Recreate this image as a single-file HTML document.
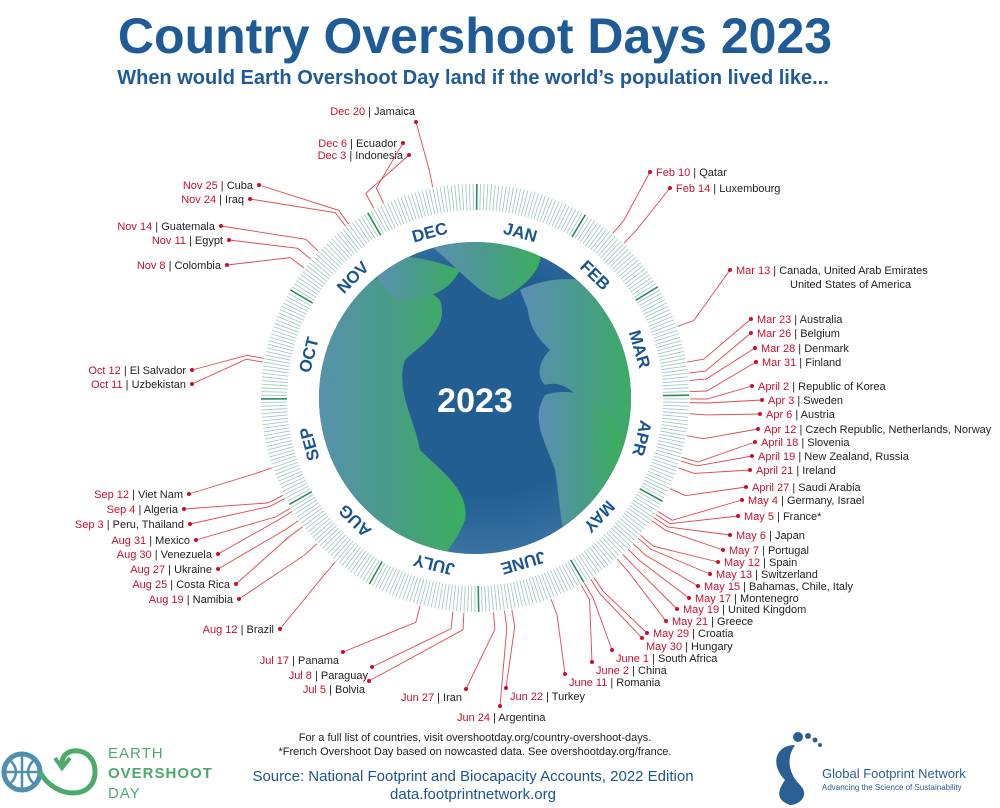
<!DOCTYPE html>
<html><head><meta charset="utf-8">
<style>
body{margin:0;background:#fff;}
svg{display:block;font-family:"Liberation Sans",sans-serif;}
</style></head>
<body>
<svg id="s" width="1000" height="808" viewBox="0 0 1000 808" xmlns="http://www.w3.org/2000/svg">
<defs>
<linearGradient id="land" x1="0" y1="0" x2="1" y2="0">
<stop offset="0" stop-color="#5b8fb5"/><stop offset="0.5" stop-color="#4a9a8c"/><stop offset="1" stop-color="#3aae5c"/>
</linearGradient>
<radialGradient id="sea" cx="0.55" cy="0.45" r="0.6">
<stop offset="0.6" stop-color="#225e92"/><stop offset="1" stop-color="#3e78a6"/>
</radialGradient>
<clipPath id="gc"><circle cx="475" cy="398" r="156"/></clipPath>
</defs>
<text x="475" y="53" text-anchor="middle" font-size="50" font-weight="bold" fill="#1f5b96">Country Overshoot Days 2023</text>
<text x="473" y="84" text-anchor="middle" font-size="20" font-weight="bold" fill="#1f5b96">When would Earth Overshoot Day land if the world’s population lived like...</text>
<g id="ticks"></g>
<circle cx="475" cy="398" r="156" fill="url(#sea)"/>
<g clip-path="url(#gc)" fill="url(#land)">
<path d="M340 290 C370 270 420 280 440 300 C450 330 420 345 405 360 C395 390 415 420 420 450 C440 470 470 490 465 520 C455 545 440 560 430 570 L300 570 L300 300 Z"/>
<path d="M370 260 C400 250 440 262 460 270 C450 290 430 300 400 300 C385 290 372 275 370 260Z"/>
<path d="M430 245 C470 236 520 238 540 250 C545 270 520 290 500 300 C480 295 460 270 430 245Z"/>
<path d="M520 290 C560 270 610 280 640 300 L640 470 C620 470 605 440 590 420 C580 390 560 380 545 385 C535 375 540 360 550 350 C540 340 530 330 528 310 Z"/>
<path d="M545 395 C575 385 600 400 615 420 C625 450 620 480 600 510 C585 525 575 540 570 550 C560 530 560 500 555 470 C545 440 530 420 545 395Z"/>
</g>
<text x="475" y="412" text-anchor="middle" font-size="34" font-weight="bold" fill="#fff">2023</text>
<g id="months" font-size="17" font-weight="bold" fill="#1a5592" text-anchor="middle"></g>
<g id="labels" font-size="11"></g>
<text x="475" y="741" text-anchor="middle" font-size="11" fill="#222">For a full list of countries, visit overshootday.org/country-overshoot-days.</text>
<text x="475" y="755" text-anchor="middle" font-size="11" fill="#222">*French Overshoot Day based on nowcasted data. See overshootday.org/france.</text>
<text x="473" y="781" text-anchor="middle" font-size="15" fill="#1a5592">Source: National Footprint and Biocapacity Accounts, 2022 Edition</text>
<text x="473" y="799" text-anchor="middle" font-size="15" fill="#1a5592">data.footprintnetwork.org</text>
<g fill="none" stroke-width="5">
<circle cx="22" cy="772" r="18" stroke="#4f8fb0"/>
<path d="M4 772 H40 M22 754 V790 M10 760 Q22 772 10 784 M34 760 Q22 772 34 784" stroke="#4f8fb0" stroke-width="2.5"/>
<path d="M40 772 C55 800 95 800 95 772 C95 745 60 745 62 765" stroke="#4caa6b"/>
<path d="M55 758 L62 768 L70 758" stroke="#4caa6b" stroke-width="4"/>
</g>
<text x="108" y="758" font-size="15" fill="#4caa6b" letter-spacing="1">EARTH</text>
<text x="108" y="778" font-size="15" font-weight="bold" fill="#4caa6b" letter-spacing="1">OVERSHOOT</text>
<text x="108" y="798" font-size="15" fill="#4caa6b" letter-spacing="1">DAY</text>
<path d="M795 745 C785 760 790 775 800 785 C810 795 800 805 790 805 C775 800 778 790 785 780 C770 765 775 745 795 745Z" fill="#2a5f94"/>
<circle cx="798" cy="737" r="5" fill="#2a5f94"/><circle cx="808" cy="736" r="3" fill="#2a5f94"/><circle cx="815" cy="740" r="2.5" fill="#2a5f94"/><circle cx="820" cy="745" r="2" fill="#2a5f94"/>
<text x="822" y="778" font-size="13" fill="#2a5f94">Global Footprint Network</text>
<text x="822" y="790" font-size="8" fill="#2a5f94">Advancing the Science of Sustainability</text>
</svg>
<script>
var NS="http://www.w3.org/2000/svg",cx=475,cy=398;
function el(t,a,p){var e=document.createElementNS(NS,t);for(var k in a)e.setAttribute(k,a[k]);p.appendChild(e);return e;}
var tg=document.getElementById('ticks');
var mstart=[0,31,59,90,120,151,181,212,243,273,304,334];
for(var d=0;d<365;d++){
 var a=(d+0.5)/365*2*Math.PI,s=Math.sin(a),c=Math.cos(a);
 var b=mstart.indexOf(d)>=0;
 var col=b?"#2e8b5f":(d%2?"#9fd2b0":"#a7c3dc");
 el('line',{x1:cx+188*s,y1:cy-188*c,x2:cx+214*s,y2:cy-214*c,stroke:col,'stroke-width':b?1.6:0.9},tg);
}
var mg=document.getElementById('months');
var mn=["JAN","FEB","MAR","APR","MAY","JUNE","JULY","AUG","SEP","OCT","NOV","DEC"],ml=[31,28,31,30,31,30,31,31,30,31,30,31];
for(var i=0;i<12;i++){var ang=(mstart[i]+ml[i]/2)/365*360;
 var t=el('text',{x:cx,y:cy-166,transform:'rotate('+ang+' '+cx+' '+cy+')'},mg);t.textContent=mn[i];}
var lg=document.getElementById('labels');
var L=[
["Feb 10","Qatar",656,172,41,"R"],["Feb 14","Luxembourg",676,188,45,"R"],
["Mar 13","Canada, United Arab Emirates",736,270,72,"R"],
["Mar 23","Australia",757,319,82,"R"],["Mar 26","Belgium",757,333,85,"R"],["Mar 28","Denmark",761,348,87,"R"],["Mar 31","Finland",762,362,90,"R"],
["April 2","Republic of Korea",758,386,92,"R"],["Apr 3","Sweden",768,400,93,"R"],["Apr 6","Austria",766,414,96,"R"],["Apr 12","Czech Republic, Netherlands, Norway",764,429,102,"R"],
["April 18","Slovenia",761,442,108,"R"],["April 19","New Zealand, Russia",758,456,109,"R"],["April 21","Ireland",756,470,111,"R"],["April 27","Saudi Arabia",752,487,117,"R"],
["May 4","Germany, Israel",748,500,124,"R"],["May 5","France*",744,516,125,"R"],["May 6","Japan",736,535,126,"R"],["May 7","Portugal",729,550,127,"R"],
["May 12","Spain",724,562,132,"R"],["May 13","Switzerland",716,574,133,"R"],["May 15","Bahamas, Chile, Italy",704,586,135,"R"],["May 17","Montenegro",695,598,137,"R"],
["May 19","United Kingdom",683,609,139,"R"],["May 21","Greece",672,621,141,"R"],["May 29","Croatia",653,633,149,"R"],["May 30","Hungary",646,646,150,"R"],
["June 1","South Africa",616,658,152,"R"],["June 2","China",596,670,153,"R"],["June 11","Romania",569,682,162,"R"],["Jun 22","Turkey",510,696,173,"R"],["Jun 24","Argentina",457,717,175,"B"],
["Jun 27","Iran",462,697,178,"L"],["Jul 5","Bolvia",365,689,186,"L"],["Jul 8","Paraguay",368,675,189,"L"],["Jul 17","Panama",339,660,198,"L"],
["Aug 12","Brazil",274,629,224,"L"],["Aug 19","Namibia",233,599,231,"L"],["Aug 25","Costa Rica",230,584,237,"L"],["Aug 27","Ukraine",212,569,239,"L"],
["Aug 30","Venezuela",212,554,242,"L"],["Aug 31","Mexico",190,540,243,"L"],["Sep 3","Peru, Thailand",184,524,246,"L"],["Sep 4","Algeria",178,509,247,"L"],
["Sep 12","Viet Nam",183,494,255,"L"],["Oct 11","Uzbekistan",186,384,284,"L"],["Oct 12","El Salvador",186,370,285,"L"],
["Nov 8","Colombia",221,265,312,"L"],["Nov 11","Egypt",223,240,315,"L"],["Nov 14","Guatemala",215,226,318,"L"],["Nov 24","Iraq",244,199,328,"L"],["Nov 25","Cuba",253,185,329,"L"],
["Dec 3","Indonesia",403,155,337,"L"],["Dec 6","Ecuador",397,143,340,"L"],["Dec 20","Jamaica",415,111,354,"T"]];
L.forEach(function(r){
 var a=(r[4]-0.5)/365*2*Math.PI,s=Math.sin(a),c=Math.cos(a);
 var dx,dy;
 if(r[5]=="R"){dx=r[2]-6;dy=r[3];}
 else if(r[5]=="L"){dx=r[2]+6;dy=r[3];}
 else if(r[5]=="B"){dx=r[2]+43;dy=r[3]-11;}
 else {dx=r[2]+1;dy=r[3]+11;}
 if(r[3]>640&&r[5]!="B"){ if(r[5]=="R"){dx=r[2]-4;dy=r[3]-8;} else {dx=r[2]+4;dy=r[3]-8;} }
 var x1=cx+215*s,y1=cy-215*c,x2=cx+232*s,y2=cy-232*c;
 el('polyline',{points:x1+','+y1+' '+x2+','+y2+' '+dx+','+dy,fill:'none',stroke:'#e0474c','stroke-width':0.9},lg);
 el('circle',{cx:dx,cy:dy,r:2,fill:'#c8102e'},lg);
 var endA=(r[5]=="L"||r[5]=="T");
 var t=el('text',{x:r[2],y:r[3]+4,'text-anchor':endA?'end':'start'},lg);
 var t1=el('tspan',{fill:'#c8102e'},t);t1.textContent=r[0];
 var t2=el('tspan',{fill:'#222'},t);t2.textContent=" | "+r[1];
});
var t=el('text',{x:790,y:288,fill:'#222','font-size':11},lg);t.textContent="United States of America";
</script>
</body></html>
